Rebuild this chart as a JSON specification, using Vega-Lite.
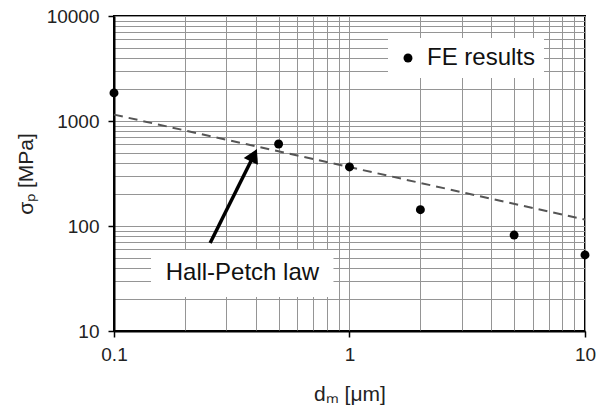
{
  "$schema": "https://vega.github.io/schema/vega-lite/v6.json",
  "width": 471,
  "height": 315,
  "autosize": {"type": "none"},
  "padding": {"left": 114, "top": 16, "right": 11, "bottom": 76},
  "background": "white",
  "config": {
    "font": "Liberation Sans",
    "view": {"stroke": "black", "strokeWidth": 2},
    "axis": {
      "domainColor": "black",
      "domainWidth": 2,
      "tickColor": "black",
      "tickWidth": 1.5,
      "gridColor": "#959595",
      "gridWidth": 1,
      "gridOpacity": 1,
      "labelFont": "Liberation Sans",
      "labelFontSize": 19,
      "labelColor": "#222",
      "titleFont": "Liberation Sans",
      "titleFontSize": 21,
      "titleFontWeight": "normal",
      "titleColor": "#222"
    }
  },
  "layer": [
    {
      "data": {"values": [{"d": 0.1, "s": 1150}, {"d": 10, "s": 115}]},
      "mark": {"type": "line", "color": "#555", "strokeWidth": 2, "strokeDash": [9, 6]},
      "encoding": {
        "x": {
          "field": "d", "type": "quantitative",
          "scale": {"type": "log", "domain": [0.1, 10], "nice": false},
          "axis": {
            "title": "dₘ [μm]",
            "grid": true,
            "values": [0.1, 0.2, 0.3, 0.4, 0.5, 0.6, 0.7, 0.8, 0.9, 1, 2, 3, 4, 5, 6, 7, 8, 9, 10],
            "labelExpr": "indexof([0.1,1,10], datum.value) >= 0 ? format(datum.value, '~g') : ''",
            "tickOpacity": {"condition": {"test": "indexof([0.1,1,10], datum.value) < 0", "value": 0}, "value": 1},
            "tickSize": 6,
            "labelPadding": 8,
            "titlePadding": 19,
            "labelFlush": false
          }
        },
        "y": {
          "field": "s", "type": "quantitative",
          "scale": {"type": "log", "domain": [10, 10000], "nice": false},
          "axis": {
            "title": "σₚ [MPa]",
            "grid": true,
            "values": [10, 20, 30, 40, 50, 60, 70, 80, 90, 100, 200, 300, 400, 500, 600, 700, 800, 900, 1000, 2000, 3000, 4000, 5000, 6000, 7000, 8000, 9000, 10000],
            "labelExpr": "indexof([10,100,1000,10000], datum.value) >= 0 ? format(datum.value, '~g') : ''",
            "tickOpacity": {"condition": {"test": "indexof([10,100,1000,10000], datum.value) < 0", "value": 0}, "value": 1},
            "tickSize": 6,
            "labelPadding": 9,
            "titlePadding": 10,
            "labelFlush": false
          }
        }
      }
    },
    {
      "data": {"values": [
        {"d": 0.1, "s": 1850, "series": "FE results"},
        {"d": 0.5, "s": 604, "series": "FE results"},
        {"d": 1, "s": 365, "series": "FE results"},
        {"d": 2, "s": 143, "series": "FE results"},
        {"d": 5, "s": 82, "series": "FE results"},
        {"d": 10, "s": 53, "series": "FE results"}
      ]},
      "mark": {"type": "point", "filled": true, "opacity": 1, "size": 80},
      "encoding": {
        "x": {"field": "d", "type": "quantitative"},
        "y": {"field": "s", "type": "quantitative"},
        "color": {
          "field": "series", "type": "nominal",
          "scale": {"range": ["black"]},
          "legend": {
            "title": null,
            "orient": "none",
            "legendX": 274,
            "legendY": 22,
            "fillColor": "white",
            "padding": 8,
            "symbolSize": 80,
            "symbolType": "circle",
            "labelFontSize": 24,
            "labelFont": "Liberation Sans",
            "labelColor": "#111",
            "labelOffset": 7
          }
        }
      }
    },
    {
      "data": {"values": [{"x1": 0.1436, "x2": 0.855, "y1": 59, "y2": 21.1}]},
      "mark": {"type": "rect", "fill": "white", "stroke": null},
      "encoding": {
        "x": {"field": "x1", "type": "quantitative"},
        "x2": {"field": "x2"},
        "y": {"field": "y1", "type": "quantitative"},
        "y2": {"field": "y2"}
      }
    },
    {
      "data": {"values": [{"d": 0.351, "s": 35.3, "label": "Hall-Petch law"}]},
      "mark": {"type": "text", "fontSize": 24, "font": "Liberation Sans", "color": "#111", "align": "center", "baseline": "middle"},
      "encoding": {
        "x": {"field": "d", "type": "quantitative"},
        "y": {"field": "s", "type": "quantitative"},
        "text": {"field": "label"}
      }
    },
    {
      "data": {"values": [{"d": 0.256, "s": 69, "d2": 0.3925, "s2": 472}]},
      "mark": {"type": "rule", "color": "black", "strokeWidth": 3.5},
      "encoding": {
        "x": {"field": "d", "type": "quantitative"},
        "y": {"field": "s", "type": "quantitative"},
        "x2": {"field": "d2"},
        "y2": {"field": "s2"}
      }
    },
    {
      "data": {"values": [{"d": 0.3925, "s": 472}]},
      "mark": {"type": "point", "shape": "triangle-up", "filled": true, "color": "black", "opacity": 1, "size": 250, "angle": 26},
      "encoding": {
        "x": {"field": "d", "type": "quantitative"},
        "y": {"field": "s", "type": "quantitative"}
      }
    }
  ]
}
